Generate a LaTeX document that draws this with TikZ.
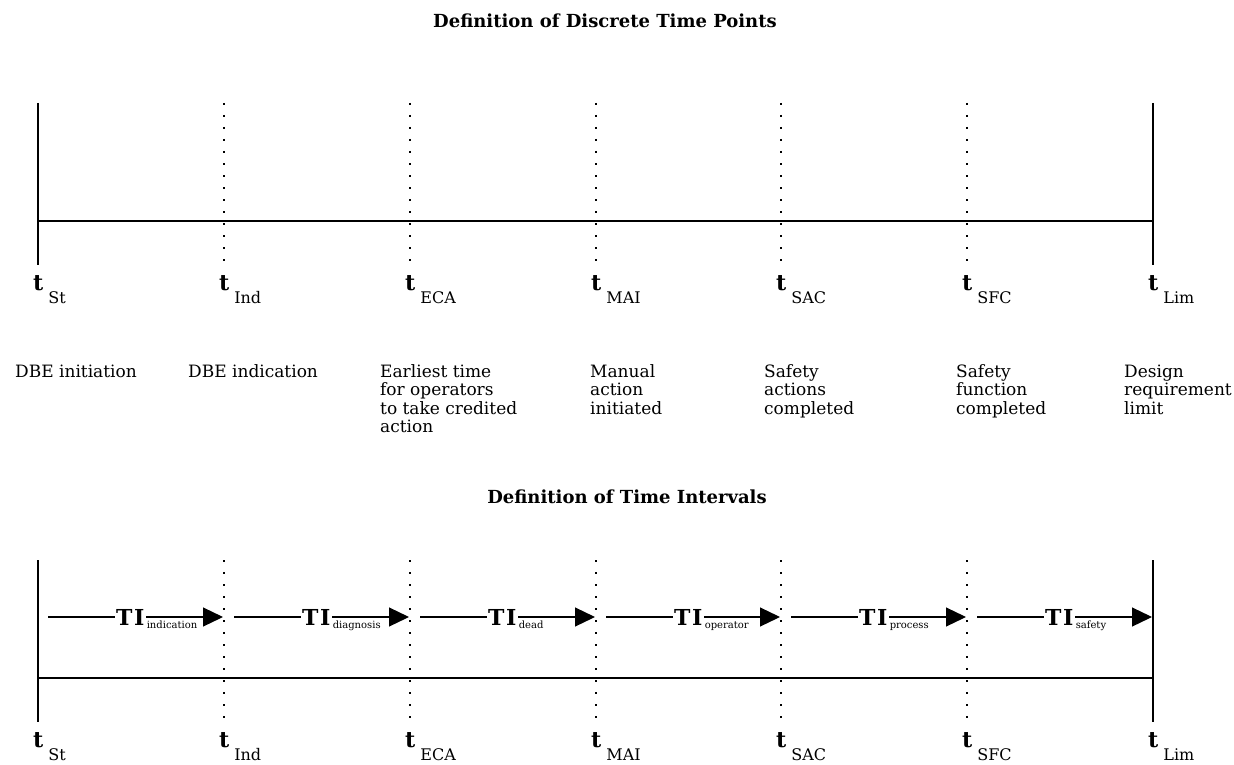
\documentclass[tikz,border=0pt]{standalone}
\usepackage{fontspec}
\setmainfont{DejaVu Serif}
\usetikzlibrary{arrows.meta}
\newcommand\mytitlefont{\fontsize{18}{21}\selectfont\bfseries}
\newcommand\mydescfont{\fontsize{17}{18.5}\selectfont}
\newcommand\mytlab[1]{{\fontsize{22}{24}\selectfont\bfseries t}\hspace{5pt}\raisebox{-13pt}{\fontsize{16}{18}\selectfont #1}}
\newcommand\mydesc[1]{\begin{tabular}[t]{@{}l@{}}#1\end{tabular}}
\begin{document}
\begin{tikzpicture}[x=1pt,y=-1pt,
  solidv/.style={line width=1.8pt},
  dotv/.style={line width=2pt, dash pattern=on 2pt off 10pt},
  axisline/.style={line width=1.3pt},
  tiarrow/.style={line width=1.2pt, -{Triangle[length=20pt,width=19pt]}},
  tlab/.style={anchor=base west, inner sep=0pt},
  desc/.style={anchor=base west, inner sep=0pt, font=\mydescfont},
  titlenode/.style={anchor=base, inner sep=0pt, font=\mytitlefont},
  tinode/.style={anchor=base west, fill=white, inner xsep=1.5pt, inner ysep=0pt, font=\fontsize{22}{24}\selectfont\bfseries},
  tisub/.style={anchor=base west, inner sep=0pt, font=\fontsize{10}{11}\selectfont}
]
\useasboundingbox (0,0) rectangle (1234,765);

% titles
\node[titlenode] (title1) at (605,28) {Definition of Discrete Time Points};
\node[titlenode] (title2) at (627,503) {Definition of Time Intervals};

% time points
\foreach \i/\xx/\lab in {0/38/St,1/224/Ind,2/410/ECA,3/596/MAI,4/781/SAC,5/967/SFC,6/1153/Lim}{
  \coordinate (ua\i) at (\xx,103);
  \coordinate (ub\i) at (\xx,265);
  \coordinate (la\i) at (\xx,560);
  \coordinate (lb\i) at (\xx,722);
  \node[tlab] (ut\i) at (\xx-5,290) {\mytlab{\lab}};
  \node[tlab] (lt\i) at (\xx-5,747) {\mytlab{\lab}};
}

% solid end lines
\draw[solidv] (ua0) -- (ub0);
\draw[solidv] (ua6) -- (ub6);
\draw[solidv] (la0) -- (lb0);
\draw[solidv] (la6) -- (lb6);
% dotted lines
\foreach \i in {1,...,5}{
  \draw[dotv] (ua\i) -- (ub\i);
  \draw[dotv] (la\i) -- (lb\i);
}

% horizontal axes
\coordinate (uh0) at (38,221);
\coordinate (uh6) at (1153,221);
\coordinate (lh0) at (38,678);
\coordinate (lh6) at (1153,678);
\draw[axisline] (uh0) -- (uh6);
\draw[axisline] (lh0) -- (lh6);

% descriptions
\node[desc] (d0) at (15,377) {\mydesc{DBE initiation}};
\node[desc] (d1) at (188,377) {\mydesc{DBE indication}};
\node[desc] (d2) at (380,377) {\mydesc{Earliest time\\for operators\\to take credited\\action}};
\node[desc] (d3) at (590,377) {\mydesc{Manual\\action\\initiated}};
\node[desc] (d4) at (764,377) {\mydesc{Safety\\actions\\completed}};
\node[desc] (d5) at (956,377) {\mydesc{Safety\\function\\completed}};
\node[desc] (d6) at (1124,377) {\mydesc{Design\\requirement\\limit}};

% interval arrows
\foreach \i/\xs/\xe/\sub in {0/38/224/indication,1/224/410/diagnosis,2/410/596/dead,3/596/781/operator,4/781/967/process,5/967/1153/safety}{
  \coordinate (as\i) at (\xs+10,617);
  \coordinate (ae\i) at (\xe-1,617);
  \draw[tiarrow] (as\i) -- (ae\i);
  \node[tinode] (ti\i) at (\xs+76.5,625) {T\kern1.5pt I};
  \node[tisub] (ts\i) at ([xshift=0.5pt,yshift=-3pt]ti\i.base east) {\sub};
}
\end{tikzpicture}
\end{document}
